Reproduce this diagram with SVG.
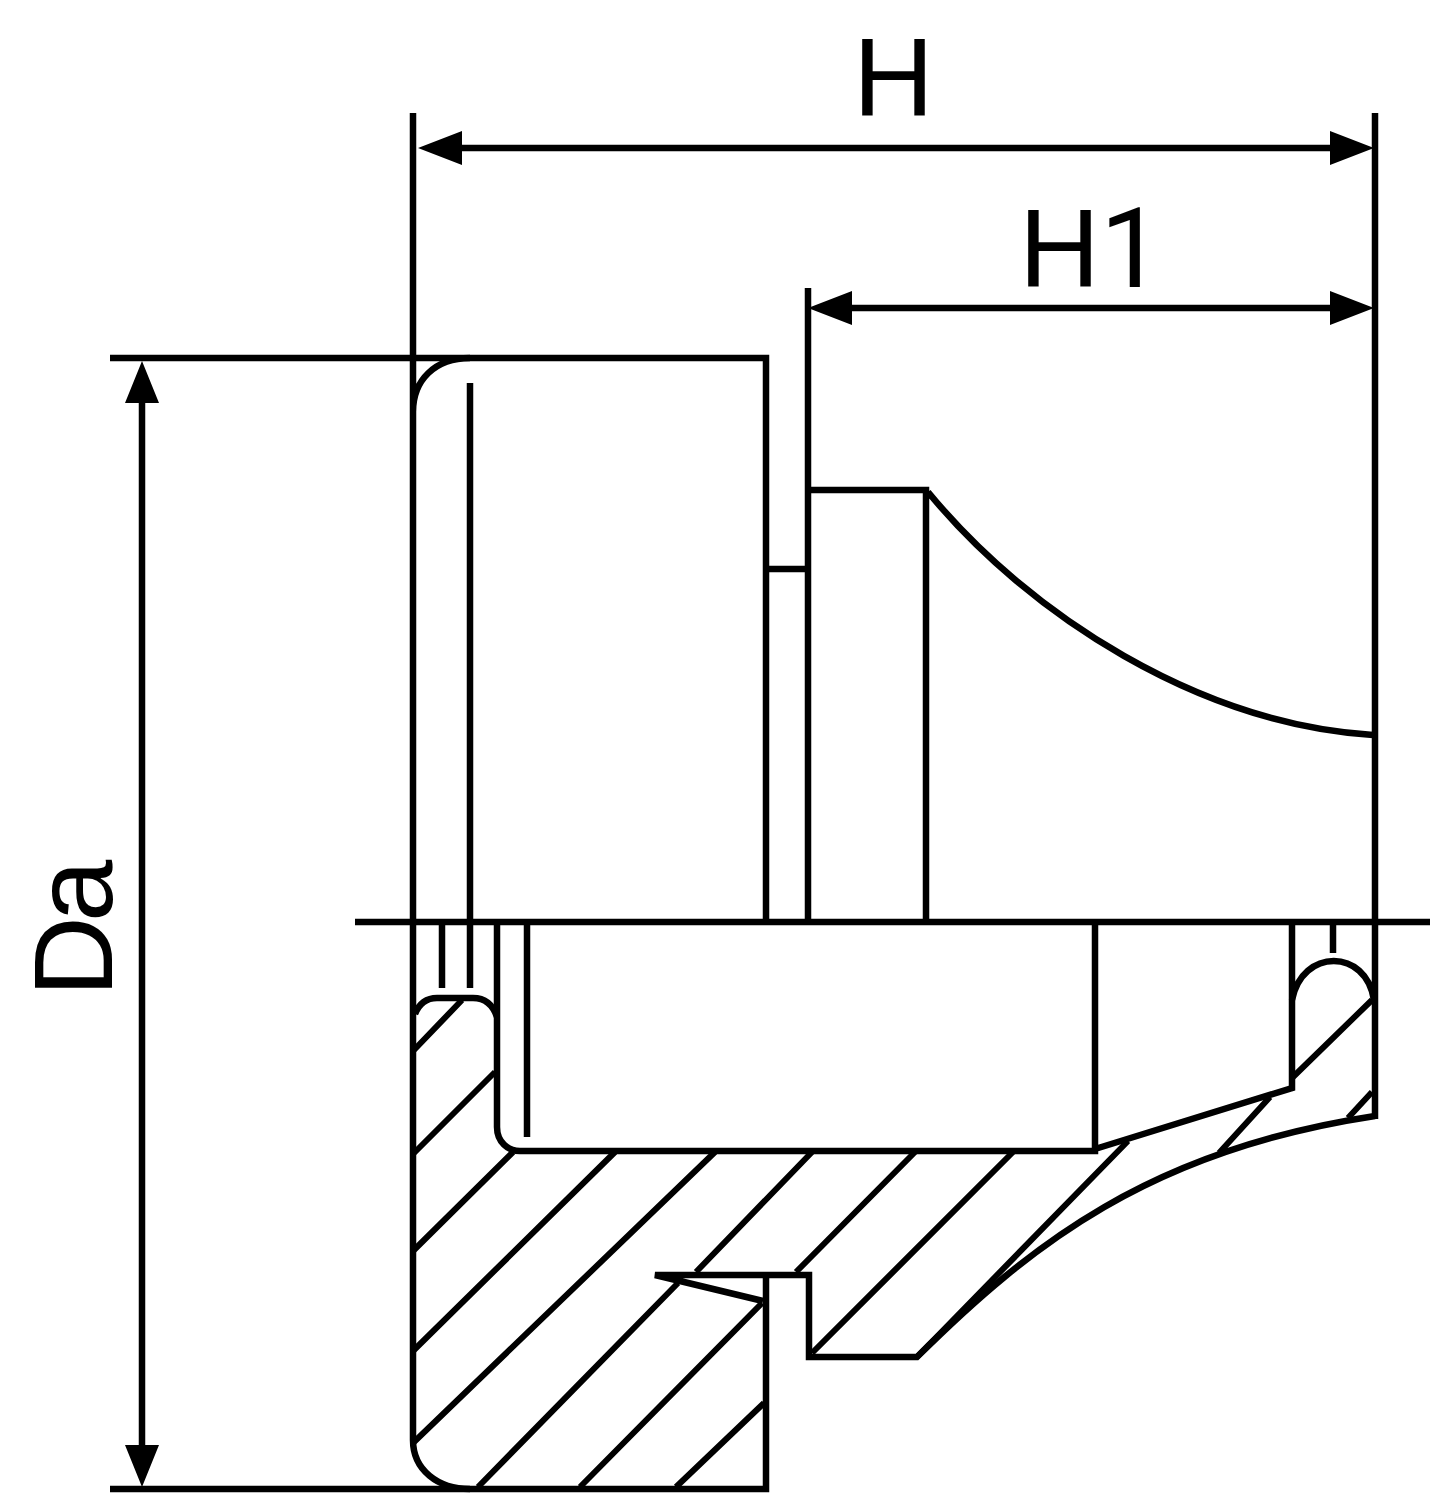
<svg xmlns="http://www.w3.org/2000/svg" width="1437" height="1500" viewBox="0 0 1437 1500">
<style>
.l{fill:none;stroke:#000;stroke-width:6.5}
.h{fill:none;stroke:#000;stroke-width:6}
.a{fill:#000}
text{font-family:"Liberation Sans",Arial,sans-serif;font-size:112px;fill:#000}
.r{font-family:Roboto,"Liberation Sans",sans-serif}
</style>
<rect width="1437" height="1500" fill="#fff"/>
<g id="hatching">
<path class="h" d="M462 1000L414 1050M495 1072L414 1153M513 1152L414 1250M615 1152L414 1350M715 1152L414 1442M812 1152L696 1272M678 1283L478 1487M915 1152L796 1272M762 1303L580 1487M1013 1152L812 1353M1128 1141L917 1357M1270 1097L1219 1153M1372 1000L1293 1077M1372 1092L1348 1118M764 1403L676 1487"/>
</g>
<g id="part">
<path class="l" d="M413 113V1440C413 1470 438 1489 470 1489M413 412C413 380 435 358 470 358"/>
<path class="l" d="M110 358H766V922M110 1489H766V1275"/>
<path class="l" d="M470 383V922M766 569H808M808 288V922M808 490H926V922M928 492C1030 616 1200 724 1373 735M1375 113V1119M1375 1116C1150 1150 1030 1245 917 1357H809V1275H655L763 1301"/>
<path class="l" d="M355 922H1430"/>
<path class="l" d="M442 922V988M470 922V988M497 922V1127C497 1142 508 1151 520 1151H1095V922M527 922V1137M1095 1149L1292 1088V922M1333 922V953"/>
<path class="l" d="M415 1014C419 1004 426 998 437 998H473C485 998 493 1005 497 1017M1292 1000C1302 948 1366 948 1374 1000"/>
</g>
<g id="connectors">
<path class="l" d="M455 148H1335M845 308H1335M142 398V1450"/>
<path class="a" d="M418 148L462 131V165ZM1374 148L1330 131V165ZM808 308L852 291V325ZM1374 308L1330 291V325ZM142 361L125 403H159ZM142 1487L125 1445H159Z"/>
</g>
<g id="labels">
<text x="853" y="116">H</text>
<text x="1019" y="287">H<tspan class="r">1</tspan></text>
<text transform="translate(112 997) rotate(-90)" letter-spacing="-6">Da</text>
</g>
</svg>
